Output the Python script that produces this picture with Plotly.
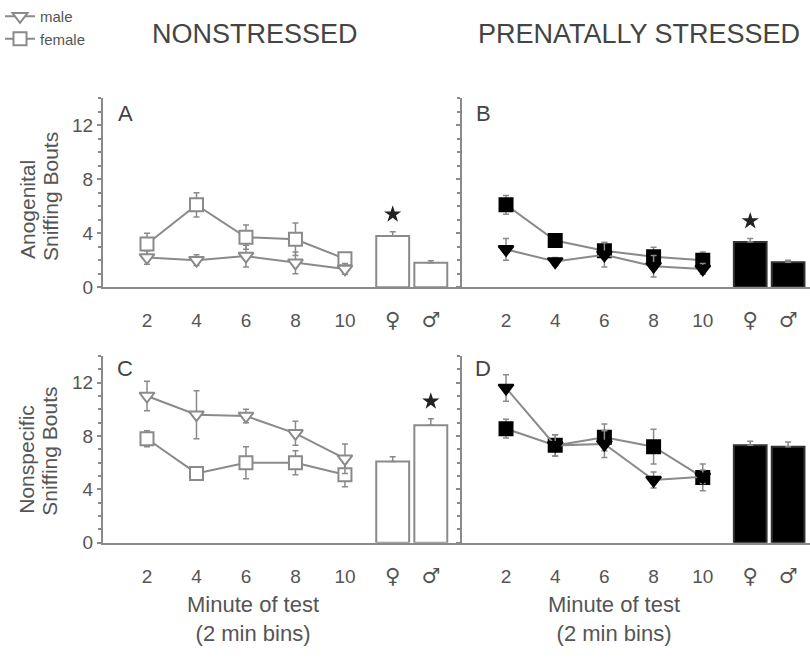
import plotly.graph_objects as go

# ---------------- data ----------------
minutes = [2, 4, 6, 8, 10]
sex_pos = [11.93, 13.47]
sex_labels = ["♀", "♂"]

# Panel A: Anogenital sniffing, nonstressed
A_female = [3.2, 6.1, 3.7, 3.55, 2.1]
A_female_err = [0.8, 0.9, 0.9, 1.2, 0.3]
A_male = [2.2, 2.0, 2.3, 1.8, 1.35]
A_male_err = [0.5, 0.4, 0.8, 0.8, 0.4]
A_bars = [3.8, 1.8]
A_bars_err = [0.3, 0.15]

# Panel B: Anogenital sniffing, prenatally stressed
B_female = [6.1, 3.45, 2.7, 2.25, 2.0]
B_female_err = [0.7, 0.3, 0.6, 0.7, 0.6]
B_male = [2.8, 1.9, 2.4, 1.55, 1.35]
B_male_err = [0.8, 0.3, 0.9, 0.8, 0.4]
B_bars = [3.35, 1.85]
B_bars_err = [0.25, 0.15]

# Panel C: Nonspecific sniffing, nonstressed
C_male = [11.0, 9.6, 9.5, 8.2, 6.3]
C_male_err = [1.1, 1.8, 0.5, 0.9, 1.1]
C_female = [7.8, 5.2, 6.0, 6.0, 5.1]
C_female_err = [0.6, 0.5, 1.2, 0.9, 0.9]
C_bars = [6.1, 8.8]
C_bars_err = [0.35, 0.5]

# Panel D: Nonspecific sniffing, prenatally stressed
D_male = [11.6, 7.3, 7.4, 4.7, 4.95]
D_male_err = [1.0, 0.8, 1.0, 0.6, 0.5]
D_female = [8.55, 7.3, 7.9, 7.2, 4.9]
D_female_err = [0.7, 0.8, 1.0, 1.3, 1.0]
D_bars = [7.3, 7.2]
D_bars_err = [0.3, 0.35]

# which bar carries the significance star (index into sex_pos), per panel
star_idx = {"A": 0, "B": 0, "C": 1, "D": None}
star_gap = 1.3

yticks = [0, 4, 8, 12]

# ---------------- style ----------------
FONT = "Liberation Sans, Arial, sans-serif"
GRAY = "#8a8a8a"
TXT = "#555555"
LW = 2

fig = go.Figure()

panels = [
    ("A", "x", "y", A_male, A_male_err, A_female, A_female_err, A_bars, A_bars_err, False),
    ("B", "x2", "y2", B_male, B_male_err, B_female, B_female_err, B_bars, B_bars_err, True),
    ("C", "x3", "y3", C_male, C_male_err, C_female, C_female_err, C_bars, C_bars_err, False),
    ("D", "x4", "y4", D_male, D_male_err, D_female, D_female_err, D_bars, D_bars_err, True),
]

for name, xa, ya, m, me, f, fe, bars, be, filled in panels:
    fill = "black" if filled else "white"
    mline = "black" if filled else GRAY
    fig.add_trace(go.Bar(
        x=sex_pos, y=bars, width=1.33, xaxis=xa, yaxis=ya,
        marker=dict(color=fill, line=dict(color=GRAY if not filled else "#333", width=LW)),
        error_y=dict(type="data", array=be, arrayminus=[0, 0], symmetric=False,
                     color=GRAY, thickness=1.5, width=3),
        showlegend=False, hoverinfo="skip"))
    for vals, errs, sym, lname in [(f, fe, "square", "female"), (m, me, "triangle-down", "male")]:
        fig.add_trace(go.Scatter(
            x=minutes, y=vals, xaxis=xa, yaxis=ya, mode="lines+markers",
            line=dict(color=GRAY, width=LW),
            marker=dict(symbol=sym, size=13, color=fill, line=dict(color=mline, width=LW)),
            error_y=dict(type="data", array=errs, color=GRAY, thickness=1.5, width=3),
            name=lname, showlegend=(name == "A"), legendrank=(1 if lname == "male" else 2)))
    si = star_idx[name]
    if si is not None:
        fig.add_trace(go.Scatter(
            x=[sex_pos[si]], y=[bars[si] + be[si] + star_gap], xaxis=xa, yaxis=ya,
            mode="markers", marker=dict(symbol="star", size=13, color="#222"),
            showlegend=False, hoverinfo="skip"))

# ---------------- axes ----------------
xdomL = [103 / 810, 460 / 810]
xdomR = [462 / 810, 1.0]
ydomT = [1 - 292 / 659, 1 - 100 / 659]
ydomB = [1 - 552 / 659, 1 - 362 / 659]

sex_tick = ["<span style='font-family:DejaVu Sans;font-size:21px'>%s\ufe0e</span>" % s
            for s in sex_labels]

def xax(dom, rng, anchor):
    return dict(domain=dom, range=rng, anchor=anchor, showgrid=False, zeroline=False,
                showline=True, linecolor=GRAY, linewidth=LW, ticks="",
                tickvals=minutes + sex_pos, ticktext=[str(v) for v in minutes] + sex_tick,
                tickfont=dict(family=FONT, size=19, color=TXT), ticklabelstandoff=15)

def yax(dom, anchor, labels):
    return dict(domain=dom, range=[0, 14], anchor=anchor, showgrid=False, zeroline=False,
                showline=True, linecolor=GRAY, linewidth=LW, ticks="outside", ticklen=4,
                tickcolor=GRAY, tickwidth=1.5, tickvals=yticks, showticklabels=labels,
                tickfont=dict(family=FONT, size=19, color=TXT),
                minor=dict(ticks="outside", ticklen=3, tickcolor=GRAY, dtick=1, tick0=0))

fig.update_layout(
    xaxis=xax(xdomL, [0.222, 14.65], "y"),
    yaxis=yax(ydomT, "x", True),
    xaxis2=xax(xdomR, [0.21, 14.36], "y2"),
    yaxis2=yax(ydomT, "x2", False),
    xaxis3=xax(xdomL, [0.222, 14.65], "y3"),
    yaxis3=yax(ydomB, "x3", True),
    xaxis4=xax(xdomR, [0.21, 14.36], "y4"),
    yaxis4=yax(ydomB, "x4", False),
)

# ---------------- text ----------------
ann = []
def txt(x, y, s, size, color=TXT, **kw):
    d = dict(x=x / 810, y=1 - y / 659, xref="paper", yref="paper", text=s, showarrow=False,
             xanchor="center", yanchor="middle",
             font=dict(family=FONT, size=size, color=color))
    d.update(kw)
    ann.append(d)

txt(255, 35, "NONSTRESSED", 27, "#444")
txt(639, 35, "PRENATALLY STRESSED", 27, "#444")
for lab, x, y in [("A", 125, 115), ("B", 483, 115), ("C", 125, 375), ("D", 483, 375)]:
    txt(x, y, lab, 22, "#444")
txt(253, 629, "Minute of test<br>(2 min bins)", 22)
txt(614, 629, "Minute of test<br>(2 min bins)", 22)
txt(27, 266, "Anogenital", 21, textangle=-90, yanchor="bottom")
txt(50, 268, "Sniffing Bouts", 21, textangle=-90, yanchor="bottom")
txt(27, 525, "Nonspecific", 21, textangle=-90, yanchor="bottom")
txt(50, 527, "Sniffing Bouts", 21, textangle=-90, yanchor="bottom")

fig.update_layout(
    width=810, height=659, margin=dict(l=0, r=0, t=0, b=0),
    plot_bgcolor="white", paper_bgcolor="white",
    annotations=ann,
    legend=dict(x=0.0, y=1.0, xanchor="left", yanchor="top", bgcolor="rgba(0,0,0,0)",
                font=dict(family=FONT, size=15, color=TXT), itemwidth=30,
                tracegroupgap=0, traceorder="normal"),
    font=dict(family=FONT),
)

fig.write_html("out.html")
